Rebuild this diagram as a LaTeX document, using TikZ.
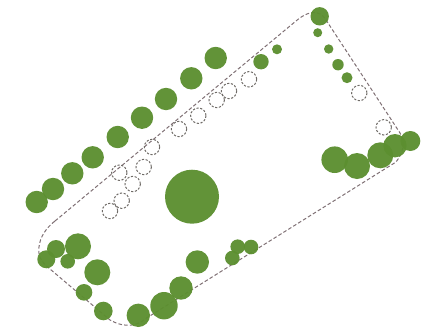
\documentclass[tikz,border=0pt]{standalone}
\definecolor{leaf}{HTML}{5C8F30}
\definecolor{outline}{HTML}{7F7074}
\definecolor{ring}{HTML}{6F6B67}
\tikzset{
  tree/.style={fill=leaf,draw=none,fill opacity=.96},
  ghost/.style={draw=ring,line width=1pt,dash pattern=on 2.2pt off 1.6pt,fill=none},
  border/.style={draw=outline,line width=1pt,dash pattern=on 3.6pt off 2.2pt}
}
\begin{document}
\begin{tikzpicture}[x=1pt,y=-1pt]
\useasboundingbox (0,0) rectangle (435,332);
\draw[border] (55,221) -- (296,21) .. controls (303,15) and (312,10) .. (320,14)
  .. controls (324,16) and (326,20) .. (328,23) -- (400,133)
  .. controls (405,141) and (404,152) .. (396,162) -- (145,319)
  .. controls (138,325) and (126,329) .. (110,320) -- (50,269)
  .. controls (40,261) and (38,255) .. (39,247) .. controls (40,237) and (46,228) .. (55,221);
\foreach \x/\y/\r in {
  36.7/202/11.2, 53/189/11.2, 72.3/173.3/11.2, 92.7/157.3/11.2, 117.7/137/11.2,
  142/117.7/11.2, 166/99/11.2, 191.3/78.3/11.2, 215.7/58/11.2, 192/196.7/27,
  319.7/16.3/9.2, 317.7/32.7/4.5, 328.7/49/4.7, 338/64.7/5.7, 347/77.7/5.5,
  261/61.7/7.7, 277/49.3/5,
  334.7/159.7/13.3, 357/166/13, 380.3/155.3/13, 395/145.7/11.7, 410.3/141/10,
  237.7/246.7/7.3, 251/247/7.3, 232.3/258/7.3,
  78/246.3/13, 56/249/9, 46.3/259.3/9, 67.7/261.3/7.3, 97.3/272.3/13,
  84/292.3/8.3, 103.3/311/9.3, 138.3/315.3/11.7, 164/305.7/13.7, 181/288/11.7,
  197.3/262/11.7}
  \fill[tree] (\x,\y) circle[radius=\r];
\foreach \x/\y in {
  229/91, 216.7/100, 198.3/115.7, 179/129, 152/147, 143.7/167, 119.3/172.7,
  132.7/184, 121.7/200.7, 110/211, 249/79.3, 359.3/93, 383.7/127.3}
  \draw[ghost] (\x,\y) circle[radius=7.7];
\end{tikzpicture}
\end{document}
